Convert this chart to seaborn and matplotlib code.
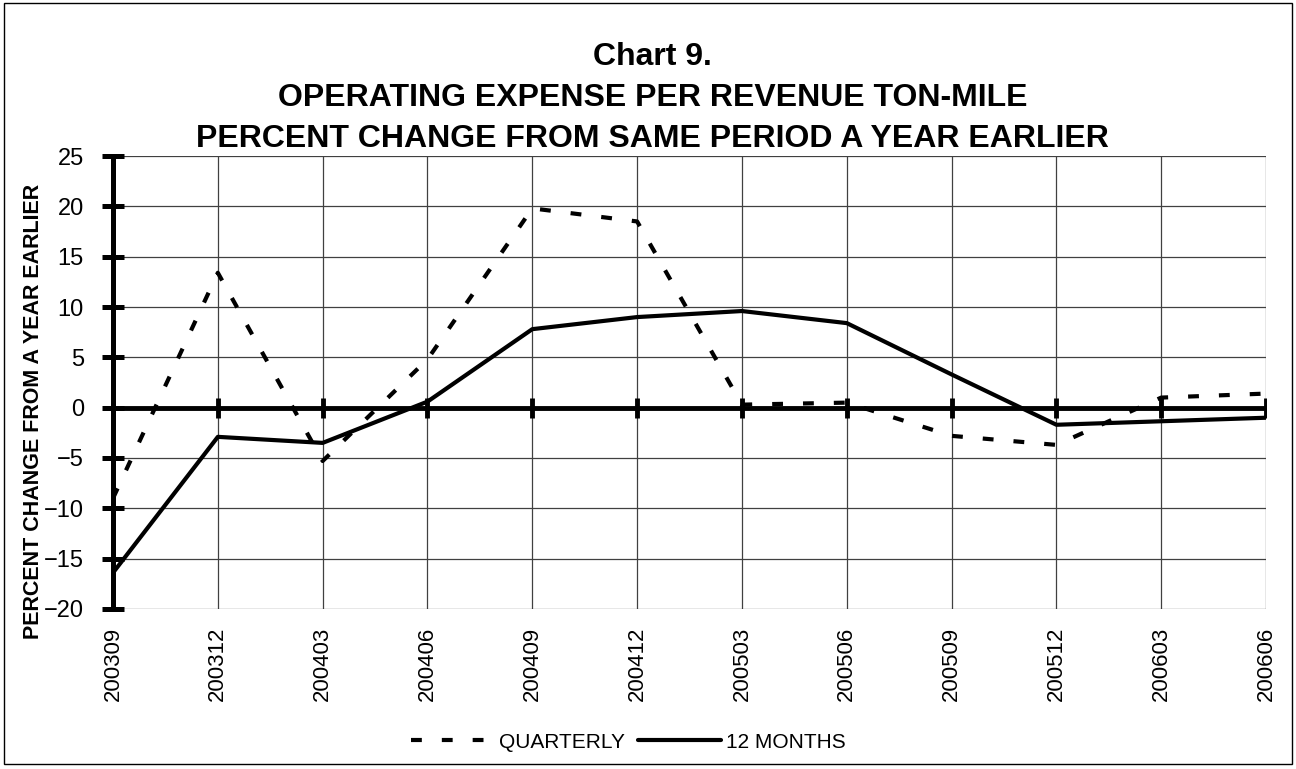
import matplotlib
matplotlib.use("Agg")
import matplotlib.pyplot as plt
from matplotlib.patches import Rectangle
import pandas as pd
import seaborn as sns

periods = ["200309", "200312", "200403", "200406", "200409", "200412",
           "200503", "200506", "200509", "200512", "200603", "200606"]
quarterly = [-9.0, 13.4, -5.3, 4.8, 19.8, 18.5, 0.3, 0.5, -2.8, -3.7, 1.0, 1.4]
twelve_months = [-16.4, -2.9, -3.5, 0.6, 7.8, 9.0, 9.6, 8.4, 3.3, -1.7, -1.35, -1.0]
series_names = ["QUARTERLY", "12 MONTHS"]

df = pd.DataFrame({
    "period": periods * 2,
    "value": quarterly + twelve_months,
    "series": [series_names[0]] * len(periods) + [series_names[1]] * len(periods),
})

sns.set_style("white")
plt.rcParams['font.family'] = ['Liberation Sans', 'DejaVu Sans']
plt.rcParams['text.color'] = 'black'
plt.rcParams['xtick.color'] = 'black'
plt.rcParams['ytick.color'] = 'black'

fig = plt.figure(figsize=(12.96, 7.69), dpi=100)
ax = fig.add_axes([0.0872, 0.2081, 0.8897, 0.5890])

ax.grid(True, color='#404040', lw=0.9, zorder=0)
ax.axhline(0, color='black', lw=3.5, zorder=3)
ax.plot(periods, [0] * len(periods), ls='none', marker='|', ms=14, mew=3.5,
        color='black', zorder=3)

sns.lineplot(data=df, x="period", y="value", hue="series", style="series",
             palette=["black", "black"],
             dashes={"QUARTERLY": (2.6, 4.8), "12 MONTHS": ""},
             linewidth=3, sort=False, ax=ax, zorder=4)

ax.set_xlim(0, len(periods) - 1)
ax.set_ylim(-20, 25)
ax.set_yticks(range(-20, 30, 5))
ax.set_xlabel("")
ax.set_ylabel("")

for s in ["top", "right", "bottom"]:
    ax.spines[s].set_visible(False)
ax.spines["left"].set_linewidth(3.6)
ax.spines["left"].set_color("black")
ax.spines["left"].set_zorder(5)

ax.tick_params(axis='y', direction='inout', length=16, width=3.6, labelsize=17,
               pad=13, left=True)
ax.tick_params(axis='x', length=0, pad=13, labelsize=16, labelrotation=90)

handles, labels = ax.get_legend_handles_labels()
ax.get_legend().remove()
fig.legend(handles, labels, loc='center', bbox_to_anchor=(0.485, 0.035), ncol=2,
           frameon=False, fontsize=15, handlelength=4.0, handletextpad=0.25,
           columnspacing=0.6)

fig.text(0.5035, 0.926, "Chart 9.", ha='center', va='center', fontsize=23, fontweight='bold')
fig.text(0.5035, 0.873, "OPERATING EXPENSE PER REVENUE TON-MILE", ha='center',
         va='center', fontsize=23, fontweight='bold')
fig.text(0.5035, 0.819, "PERCENT CHANGE FROM SAME PERIOD A YEAR EARLIER", ha='center',
         va='center', fontsize=23, fontweight='bold')
fig.text(0.026, 0.4655, "PERCENT CHANGE FROM A YEAR EARLIER", rotation=90,
         ha='center', va='center', fontsize=15.5, fontweight='bold')

fig.patches.append(Rectangle((0.003, 0.006), 0.994, 0.99, transform=fig.transFigure,
                             fill=False, lw=1, ec='black'))

fig.savefig("out.png", dpi=100)
